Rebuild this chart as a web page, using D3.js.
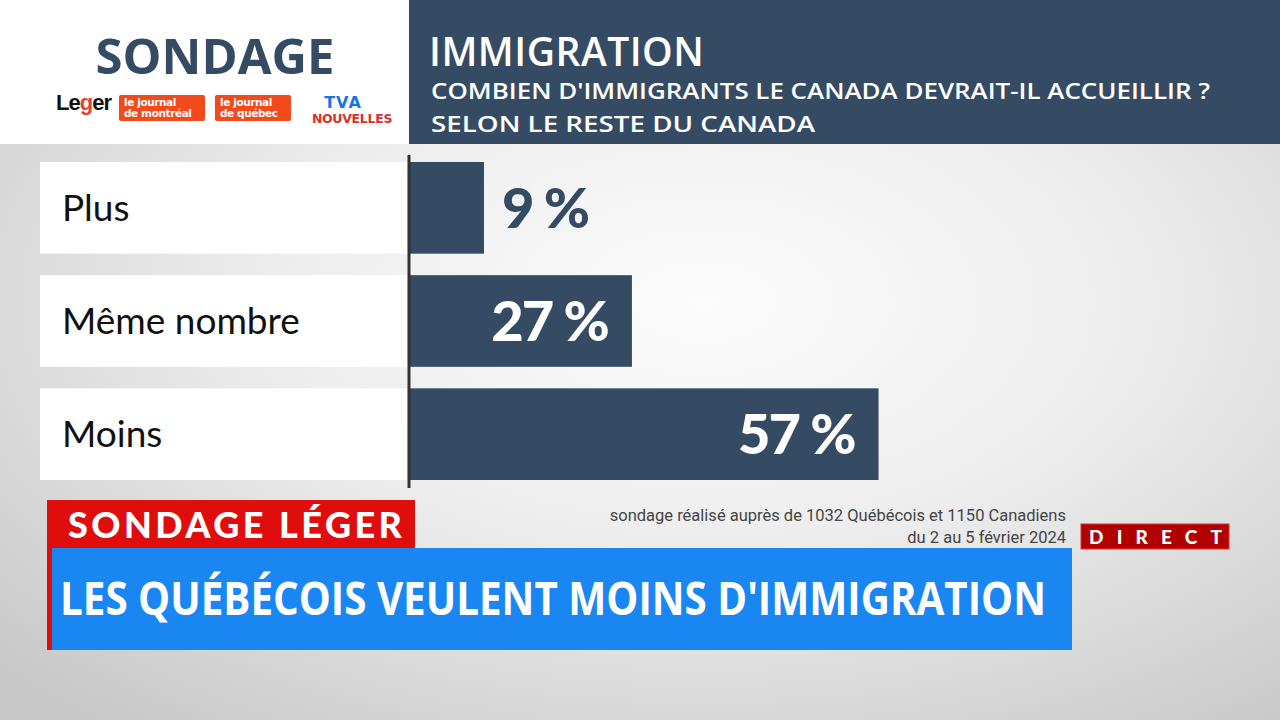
<!DOCTYPE html>
<html>
<head>
<meta charset="utf-8">
<script src="https://cdn.jsdelivr.net/npm/d3@7"></script>
<style>
  html, body { margin: 0; padding: 0; background: #e4e4e4; }
  svg { display: block; }
</style>
</head>
<body>
<div class="container"></div>
<script>
// chart data
var categories = ["Plus", "Même nombre", "Moins"];
var values = [9, 27, 57];
var title = "IMMIGRATION";
var subtitle = ["COMBIEN D'IMMIGRANTS LE CANADA DEVRAIT-IL ACCUEILLIR ?", "SELON LE RESTE DU CANADA"];
var footnote = ["sondage réalisé auprès de 1032 Québécois et 1150 Canadiens", "du 2 au 5 février 2024"];
var headline = "LES QUÉBÉCOIS VEULENT MOINS D'IMMIGRATION";

var width = 1280, height = 720;
var navy = "#354b63";

var svg = d3.select(".container").append("svg")
            .attr("width", width)
            .attr("height", height);

var defs = svg.append("defs");
var bg = defs.append("radialGradient")
             .attr("id", "bg")
             .attr("cx", "55%").attr("cy", "42%").attr("r", "75%");
bg.append("stop").attr("offset", "0%").attr("stop-color", "#fcfcfc");
bg.append("stop").attr("offset", "45%").attr("stop-color", "#ededed");
bg.append("stop").attr("offset", "100%").attr("stop-color", "#c8c8c8");

svg.append("rect").attr("width", width).attr("height", height).attr("fill", "url(#bg)");

// header
svg.append("rect").attr("x", 0).attr("y", 0).attr("width", 409).attr("height", 144).attr("fill", "#fff");
svg.append("rect").attr("x", 409).attr("y", 0).attr("width", width - 409).attr("height", 144).attr("fill", navy);

svg.append("text")
   .attr("x", 215).attr("y", 74)
   .attr("text-anchor", "middle")
   .style("font", "700 49px 'Open Sans'")
   .attr("fill", navy)
   .text("SONDAGE");

// logos (approximated)
var logos = svg.append("g");
var leger = logos.append("text").attr("x", 56).attr("y", 110)
                 .style("font", "700 22px 'Liberation Sans'").attr("fill", "#111")
                 .attr("letter-spacing", "-1");
leger.append("tspan").text("Le");
leger.append("tspan").attr("fill", "#e8412b").text("g");
leger.append("tspan").text("er");

var journals = [["le journal", "de montréal", 119, 86], ["le journal", "de québec", 215, 76]];
journals.forEach(function(j) {
  logos.append("rect").attr("x", j[2]).attr("y", 95).attr("width", j[3]).attr("height", 26)
       .attr("rx", 2).attr("fill", "#f24a1d");
  var t = logos.append("text")
               .style("font", "700 10.5px 'DejaVu Sans'").attr("fill", "#fff")
               .attr("letter-spacing", "-0.4");
  t.append("tspan").attr("x", j[2] + 5).attr("y", 106).text(j[0]);
  t.append("tspan").attr("x", j[2] + 5).attr("y", 117).text(j[1]);
});
logos.append("text").attr("x", 343).attr("y", 108).attr("text-anchor", "middle")
     .style("font", "900 16px 'DejaVu Sans'").attr("fill", "#1a73e8")
     .attr("letter-spacing", "1").text("TVA");
logos.append("text").attr("x", 352).attr("y", 123).attr("text-anchor", "middle")
     .style("font", "700 12.5px 'DejaVu Sans'").attr("fill", "#d9302c")
     .attr("letter-spacing", "-0.3").text("NOUVELLES");

svg.append("text")
   .attr("x", 429).attr("y", 66)
   .style("font", "600 39px 'Open Sans'")
   .attr("fill", "#fff")
   .attr("letter-spacing", "0.5")
   .text(title);

var subWidths = [779, 384];
svg.selectAll("text.sub")
   .data(subtitle).enter().append("text")
   .attr("class", "sub")
   .attr("x", 431).attr("y", (d, i) => 99 + i * 33)
   .style("font", "600 22px 'Open Sans'")
   .attr("fill", "#fff")
   .attr("textLength", (d, i) => subWidths[i])
   .attr("lengthAdjust", "spacingAndGlyphs")
   .text(d => d);

// chart
var x = d3.scaleLinear().domain([0, 100]).range([410, 1232]);
var y = d3.scaleBand().domain(categories).range([162, 480]).paddingInner(0.19);

var rows = svg.append("g").selectAll("g")
              .data(categories.map((c, i) => ({ cat: c, val: values[i] })))
              .enter().append("g");

rows.append("rect")
    .attr("x", 40).attr("y", d => y(d.cat))
    .attr("width", 367).attr("height", y.bandwidth())
    .attr("fill", "#fff");

rows.append("text")
    .attr("x", 62).attr("y", d => y(d.cat) + y.bandwidth() / 2 + 13)
    .style("font", "400 37px 'Lato'")
    .attr("fill", "#111")
    .text(d => d.cat);

rows.append("rect")
    .attr("x", x(0)).attr("y", d => y(d.cat))
    .attr("width", d => x(d.val) - x(0)).attr("height", y.bandwidth())
    .attr("fill", navy);

rows.append("text")
    .attr("x", d => d.val < 15 ? x(d.val) + 18 : x(d.val) - 24)
    .attr("y", d => y(d.cat) + y.bandwidth() / 2 + 20)
    .attr("text-anchor", d => d.val < 15 ? "start" : "end")
    .style("font", "900 56px 'Lato'")
    .attr("letter-spacing", "-2")
    .attr("fill", d => d.val < 15 ? navy : "#fff")
    .text(d => d.val + " %");

svg.append("line")
   .attr("x1", 409).attr("x2", 409)
   .attr("y1", 155).attr("y2", 488)
   .attr("stroke", "#333").attr("stroke-width", 3);

// footnote
svg.selectAll("text.foot")
   .data(footnote).enter().append("text")
   .attr("class", "foot")
   .attr("x", 1066).attr("y", (d, i) => 521 + i * 22)
   .attr("text-anchor", "end")
   .style("font", "400 16.5px 'Roboto'")
   .attr("fill", "#444")
   .text(d => d);

// lower third
svg.append("rect").attr("x", 47).attr("y", 500).attr("width", 368).attr("height", 48).attr("fill", "#e00d0d");
svg.append("text").attr("x", 68).attr("y", 538)
   .style("font", "900 36px 'Lato'").attr("fill", "#fff")
   .attr("textLength", 334).attr("lengthAdjust", "spacing")
   .text("SONDAGE LÉGER");

svg.append("rect").attr("x", 47).attr("y", 548).attr("width", 1025).attr("height", 102).attr("fill", "#1a86f2");
svg.append("rect").attr("x", 47).attr("y", 548).attr("width", 5).attr("height", 102).attr("fill", "#e00d0d");
svg.append("text").attr("x", 60).attr("y", 615)
   .style("font", "700 47px 'Open Sans'").attr("fill", "#fff")
   .attr("textLength", 986).attr("lengthAdjust", "spacingAndGlyphs")
   .text(headline);

svg.append("rect").attr("x", 1081).attr("y", 524).attr("width", 148).attr("height", 25)
   .attr("fill", "#b00000").attr("stroke", "#e03030").attr("stroke-width", 1);
svg.append("text").attr("x", 1089).attr("y", 544)
   .style("font", "900 19px 'Lato'").attr("fill", "#fff")
   .attr("textLength", 133).attr("lengthAdjust", "spacing")
   .text("DIRECT");
</script>
</body>
</html>
